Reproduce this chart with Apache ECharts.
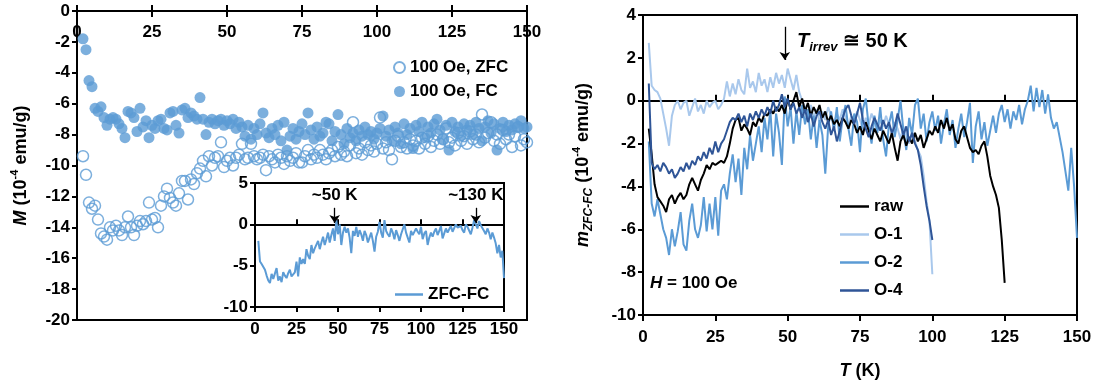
<!DOCTYPE html>
<html><head><meta charset="utf-8">
<script src="https://cdn.jsdelivr.net/npm/echarts@6/dist/echarts.min.js"></script>
<style>html,body{margin:0;padding:0;background:#fff}#c{width:1099px;height:387px}</style>
</head><body><div id="c"></div>
<script>
// temperature grid (K) shared by all series
const temps = [2,3,4,5,6,7,8,9,
10,11,12,13,14,15,16,17,18,19,
20,21,22,23,24,25,26,27,28,29,
30,31,32,33,34,35,36,37,38,39,
40,41,42,43,44,45,46,47,48,49,
50,51,52,53,54,55,56,57,58,59,
60,61,62,63,64,65,66,67,68,69,
70,71,72,73,74,75,76,77,78,79,
80,81,82,83,84,85,86,87,88,89,
90,91,92,93,94,95,96,97,98,99,
100,101,102,103,104,105,106,107,108,109,
110,111,112,113,114,115,116,117,118,119,
120,121,122,123,124,125,126,127,128,129,
130,131,132,133,134,135,136,137,138,139,
140,141,142,143,144,145,146,147,148,149,
150];
const xTicks = [0,25,50,75,100,125,150];

// Left panel: M (1e-4 emu/g)
const zfc = [-9.4,-10.6,-12.4,-12.8,-12.6,-13.5,-14.4,-14.6,
-14.8,-14.0,-14.2,-13.9,-14.2,-14.5,-14.0,-13.3,-14.0,-14.5,
-13.9,-13.6,-13.8,-13.6,-12.4,-13.5,-13.4,-14.0,-12.6,-12.0,
-11.5,-12.1,-12.4,-12.6,-11.8,-11.0,-11.0,-12.2,-10.9,-11.2,
-10.5,-10.2,-9.7,-10.7,-9.4,-10.0,-9.5,-9.4,-8.5,-10.1,
-9.7,-9.5,-10.0,-9.5,-9.3,-8.6,-9.6,-9.5,-8.6,-9.4,
-9.6,-9.5,-9.3,-10.3,-9.4,-9.6,-9.8,-9.3,-9.5,-9.9,
-9.4,-9.7,-9.5,-9.2,-9.8,-9.8,-9.4,-9.0,-9.6,-9.3,
-9.5,-9.0,-9.3,-9.6,-9.2,-9.0,-9.4,-8.8,-9.3,-9.1,
-9.4,-8.7,-7.2,-9.2,-8.9,-9.3,-8.5,-9.0,-8.7,-9.1,
-8.6,-6.9,-8.9,-8.5,-9.0,-9.6,-8.4,-8.1,-8.8,-8.5,
-8.9,-8.3,-8.7,-8.4,-8.9,-8.2,-8.6,-8.1,-8.8,-8.4,
-8.0,-8.6,-8.3,-7.6,-8.5,-8.2,-8.7,-7.9,-8.4,-8.1,
-8.6,-7.8,-8.3,-8.0,-8.5,-6.7,-8.2,-7.9,-7.2,-8.4,
-8.0,-8.6,-7.7,-8.3,-8.0,-8.8,-8.1,-7.5,-8.7,-8.3,
-8.5];
const fc = [-1.8,-2.5,-4.5,-4.9,-6.3,-6.5,-6.2,-6.9,
-7.4,-7.0,-6.9,-7.0,-7.3,-7.6,-8.2,-6.5,-6.6,-6.9,
-7.8,-6.3,-7.5,-7.1,-8.2,-7.4,-7.6,-7.1,-7.0,-7.6,
-7.7,-6.6,-6.5,-7.4,-7.9,-6.4,-6.3,-6.9,-6.6,-6.8,
-7.0,-5.6,-7.0,-8.0,-7.2,-7.0,-7.3,-7.1,-7.0,-7.4,
-7.1,-7.3,-7.0,-7.6,-7.2,-7.5,-8.1,-7.4,-8.3,-7.6,
-8.0,-7.3,-6.6,-7.9,-8.2,-7.6,-8.0,-7.4,-8.4,-7.2,
-9.0,-8.1,-7.6,-8.3,-7.8,-7.3,-8.0,-6.6,-7.7,-8.3,
-7.5,-8.1,-7.9,-7.2,-7.3,-8.4,-7.8,-6.7,-8.0,-8.6,
-7.6,-8.2,-7.9,-8.4,-7.7,-8.1,-7.5,-8.0,-7.8,-8.3,
-7.9,-7.6,-6.8,-8.1,-7.7,-8.4,-7.5,-7.9,-8.6,-7.3,
-8.0,-7.6,-8.9,-7.4,-7.8,-7.2,-8.2,-7.5,-7.9,-7.3,
-7.0,-7.7,-8.3,-7.4,-9.0,-7.2,-7.8,-7.5,-8.1,-7.3,
-7.7,-7.4,-8.0,-7.2,-7.6,-8.4,-7.5,-7.1,-7.9,-7.3,
-9.0,-7.6,-7.2,-7.8,-7.4,-7.7,-7.3,-7.5,-7.1,-7.6,
-7.5];
// inset: ZFC-FC
const zfcMinusFc = [-2.0,-4.5,-4.8,-5.0,-5.5,-6.2,-6.8,-7.1,
-6.0,-6.6,-6.4,-5.3,-6.8,-6.3,-7.0,-5.8,-6.2,-6.5,
-5.9,-5.5,-6.3,-6.2,-5.8,-4.5,-6.3,-4.0,-4.8,-4.2,
-4.8,-3.0,-3.8,-4.2,-2.5,-3.5,-2.9,-2.8,-2.0,-3.0,
-2.2,-1.5,-2.5,-1.8,-1.0,-2.2,-1.3,-0.5,-2.0,0.5,
-1.2,0.0,-2.5,-1.0,-0.3,-1.0,-0.5,-1.6,-3.5,-0.8,
-1.4,-0.3,-1.5,-0.7,-1.2,-2.0,-0.8,-1.3,-2.2,-1.6,
-1.0,-2.0,-3.3,-1.5,-0.9,0.3,-1.0,-1.6,0.5,-0.8,
-1.2,-1.5,-0.5,-1.0,-1.8,-0.7,-1.3,-2.0,-1.2,-0.6,
0.0,-1.0,-1.6,-2.2,-0.8,-1.3,-1.5,-0.5,-0.9,-1.2,
-0.3,-1.8,-1.1,-0.8,-2.5,-1.6,-1.0,-1.5,-0.9,-0.5,
-1.3,-0.8,-0.2,-1.7,-1.1,-0.5,-1.0,-0.6,-0.2,-0.9,
-0.8,0.0,-0.4,-0.6,-0.2,-0.7,-1.0,0.0,-0.3,-0.5,
-1.2,-0.4,0.5,0.3,-0.5,0.4,-0.1,-0.3,-0.8,-1.2,
-0.5,-1.0,-1.8,-1.0,-1.6,-2.3,-3.5,-2.5,-4.0,-3.2,
-6.5];

// Right panel: m_ZFC-FC (1e-4 emu/g)
const raw = [-1.3,-2.5,-3.9,-4.5,-4.7,-4.9,-5.2,-4.6,
-4.4,-4.8,-4.5,-4.3,-4.6,-4.4,-3.9,-3.6,-3.9,-4.2,
-3.7,-3.4,-3.0,-3.2,-2.9,-3.0,-2.9,-2.8,-2.9,-2.6,
-2.0,-1.3,-0.9,-0.8,-1.4,-1.1,-1.3,-1.6,-1.0,-1.2,
-0.8,-1.0,-0.6,-0.7,-0.4,-0.6,-0.3,-0.5,-0.2,-0.6,
0.1,-0.4,0.0,0.4,-0.3,0.1,-0.5,-0.1,-0.7,-0.3,
-0.6,-0.2,-0.8,-0.5,-1.0,-0.7,-1.1,-0.9,-1.2,-0.8,
-1.0,-1.3,-0.9,-1.1,-1.5,-1.2,-1.6,-1.0,-1.4,-1.8,
-1.3,-1.6,-1.9,-1.4,-1.7,-2.0,-1.5,-2.2,-2.8,-1.9,
-1.6,-2.1,-1.7,-2.0,-1.5,-1.9,-1.6,-2.2,-1.8,-1.4,
-1.6,-1.2,-1.5,-0.9,-1.3,-0.8,-1.4,-1.1,-1.8,-2.0,
-1.4,-1.2,-1.7,-2.2,-2.4,-2.3,-2.5,-2.1,-1.9,-2.6,
-3.5,-4.0,-4.4,-5.0,-6.5,-8.5];
const o1 = [2.7,0.7,0.5,0.4,0.1,-0.6,-1.3,-2.1,
-0.7,-0.2,0.0,-0.4,-0.1,0.0,-0.7,-0.3,0.1,-0.5,
-0.2,-0.6,0.0,-0.3,-0.1,0.0,-0.4,-0.2,0.1,0.9,
0.2,0.8,0.3,1.0,0.5,0.3,1.5,0.6,0.9,0.4,
1.3,0.7,1.0,0.4,1.1,0.6,1.3,0.8,1.2,0.6,
1.5,1.0,0.5,1.2,0.4,0.0,-0.3,-0.6,-0.2,-0.8,
-0.4,-1.0,-0.5,-0.9,-0.3,-0.7,-1.1,-0.6,-0.9,-0.4,
-0.8,-1.2,-0.7,-1.0,-0.5,-0.9,-1.3,-0.8,-1.1,-0.6,
-1.0,-1.4,-0.9,-1.2,-0.7,-1.1,-1.5,-1.0,-1.3,-1.8,
-1.2,-1.6,-2.0,-1.5,-1.9,-2.3,-2.6,-3.5,-4.7,-5.6,
-8.1];
const o2 = [-1.9,-4.8,-5.4,-4.6,-5.3,-6.0,-6.4,-7.2,
-6.0,-6.8,-6.1,-5.2,-6.7,-7.0,-5.6,-4.8,-6.0,-6.4,
-5.8,-4.5,-6.1,-4.8,-6.0,-4.5,-6.3,-4.2,-3.9,-4.6,
-3.4,-2.5,-3.8,-2.7,-4.4,-2.2,-3.2,-1.6,-2.8,-2.0,
-1.2,-2.4,-0.8,-1.8,-0.4,-2.6,-0.6,-1.5,-3.0,0.2,
-1.2,-0.3,-2.0,-0.5,-1.6,-0.2,-1.1,-0.4,-1.8,-0.7,
-2.2,-0.9,-1.6,-3.4,-1.2,-0.5,-1.4,-0.3,-1.9,-0.8,
-0.2,-1.3,-2.1,-0.6,-1.0,-2.4,-0.4,0.1,-1.2,-2.0,
-0.7,-1.5,-0.3,-1.8,-2.6,-1.1,-0.5,-1.7,-0.9,0.0,
-1.4,-2.3,-0.8,-1.6,-0.2,0.1,-1.3,-0.6,-1.9,-1.0,
-0.5,-1.4,-0.7,-2.0,-1.1,-0.4,-1.6,-0.9,-2.2,-1.3,
-0.6,-1.7,-1.0,-0.1,-2.9,-1.2,-0.5,-1.8,-1.0,-2.1,
-1.4,-0.7,-1.5,-0.6,-0.2,-1.0,-0.4,-1.3,-0.5,-0.9,
-0.2,-1.1,-0.4,0.0,0.7,-0.5,0.6,-0.3,0.5,-0.6,
0.3,-0.8,-1.3,-1.0,-1.7,-2.4,-3.3,-4.2,-2.2,-4.0,
-6.4];
const o4 = [0.8,-2.9,-3.2,-3.0,-3.3,-2.9,-3.1,-3.4,
-3.2,-3.6,-3.4,-3.1,-3.3,-2.9,-3.2,-2.8,-3.0,-2.6,
-2.8,-2.4,-2.7,-2.2,-2.5,-1.9,-2.4,-2.0,-1.8,-1.4,
-1.0,-0.8,-0.9,-0.6,-1.0,-0.7,-1.2,-0.6,-0.9,-0.5,
-0.8,-0.4,-0.7,-0.3,-0.6,0.0,-0.5,-0.2,0.3,-0.3,
0.1,-0.4,-0.1,-0.6,-0.3,-0.8,-0.4,-1.0,-0.6,-1.2,
-0.7,-0.5,-1.0,-1.3,-0.9,-1.6,-1.2,-1.9,-1.4,-0.8,
-0.4,-0.2,-0.7,-1.1,-0.6,-0.1,-0.9,-1.3,-1.7,-1.2,
-0.8,-1.1,-1.4,-0.9,-1.3,-1.0,-1.5,-1.2,-0.6,-1.1,
-1.6,-1.2,-1.9,-1.5,-2.0,-2.3,-3.0,-4.0,-4.9,-5.6,
-6.5];

const FONT = '"Liberation Sans", Arial, sans-serif';
const BLUE = '#5B9BD5';
const pairs = vals => vals.map((v, i) => [temps[i], v]);
const lab = {fontFamily: FONT, fontSize: 17, fontWeight: 'bold', color: '#000'};
const line2 = {show: true, lineStyle: {color: '#000', width: 2}};
const tick = (inside, len) => ({show: true, inside: inside, length: len, lineStyle: {color: '#000', width: 2}});
const xRange = {type: 'value', min: 0, max: 150, interval: 25, splitLine: {show: false}};
const nameRich = {
  i: {fontFamily: FONT, fontSize: 18, fontWeight: 'bold', fontStyle: 'italic', color: '#000', lineHeight: 24, verticalAlign: 'middle'},
  n: {fontFamily: FONT, fontSize: 18, fontWeight: 'bold', color: '#000', lineHeight: 24, verticalAlign: 'middle'},
  sup: {fontFamily: FONT, fontSize: 11, fontWeight: 'bold', color: '#000', lineHeight: 24, verticalAlign: 'top'},
  sub: {fontFamily: FONT, fontSize: 12, fontWeight: 'bold', fontStyle: 'italic', color: '#000', lineHeight: 24, verticalAlign: 'bottom'}
};

const chart = echarts.init(document.getElementById('c'), null, {renderer: 'canvas'});
chart.setOption({
  animation: false,
  backgroundColor: '#fff',
  textStyle: {fontFamily: FONT},
  grid: [
    {left: 77, top: 11, width: 450, height: 309, show: true, borderColor: '#000', borderWidth: 2, backgroundColor: 'transparent', outerBoundsMode: 'none', containLabel: false},
    {left: 255, top: 183, width: 249, height: 124, show: true, borderColor: '#000', borderWidth: 2, backgroundColor: '#fff', outerBoundsMode: 'none', containLabel: false, z: 3},
    {left: 643, top: 15, width: 434, height: 300, show: true, borderColor: '#000', borderWidth: 2, backgroundColor: 'transparent', outerBoundsMode: 'none', containLabel: false}
  ],
  xAxis: [
    Object.assign({}, xRange, {gridIndex: 0, position: 'top', axisLine: Object.assign({onZero: false}, line2), axisTick: tick(true, 6), axisLabel: Object.assign({inside: true, margin: 13, customValues: xTicks}, lab)}),
    Object.assign({}, xRange, {gridIndex: 0, position: 'top', axisLine: {show: false, onZero: false}, axisTick: tick(false, 6), axisLabel: {show: false}}),
    Object.assign({}, xRange, {gridIndex: 1, position: 'bottom', z: 4, axisLine: Object.assign({onZero: true}, line2), axisTick: tick(true, 5), axisLabel: Object.assign({margin: 14}, lab)}),
    Object.assign({}, xRange, {gridIndex: 1, position: 'bottom', z: 4, axisLine: {show: false, onZero: true}, axisTick: tick(false, 5), axisLabel: {show: false}}),
    Object.assign({}, xRange, {gridIndex: 2, position: 'bottom', axisLine: Object.assign({onZero: false}, line2), axisTick: {show: false}, axisLabel: Object.assign({margin: 14}, lab),
      name: '{i|T}{n| (K)}', nameLocation: 'middle', nameGap: 44, nameTextStyle: {rich: nameRich}}),
    Object.assign({}, xRange, {gridIndex: 2, position: 'bottom', axisLine: Object.assign({onZero: true}, line2), axisTick: tick(true, 6), axisLabel: {show: false}}),
    Object.assign({}, xRange, {gridIndex: 2, position: 'bottom', axisLine: {show: false, onZero: true}, axisTick: tick(false, 6), axisLabel: {show: false}})
  ],
  yAxis: [
    {gridIndex: 0, type: 'value', min: -20, max: 0, interval: 2, splitLine: {show: false},
      axisLine: Object.assign({onZero: false}, line2), axisTick: tick(false, 5), axisLabel: Object.assign({margin: 7}, lab),
      name: '{i|M}{n| (10}{sup|-4}{n| emu/g)}', nameLocation: 'middle', nameGap: 44, nameTextStyle: {rich: nameRich}},
    {gridIndex: 1, type: 'value', min: -10, max: 5, interval: 5, splitLine: {show: false}, z: 4,
      axisLine: Object.assign({onZero: false}, line2), axisTick: tick(false, 5), axisLabel: Object.assign({margin: 7}, lab)},
    {gridIndex: 2, type: 'value', min: -10, max: 4, interval: 2, splitLine: {show: false},
      axisLine: Object.assign({onZero: false}, line2), axisTick: tick(false, 5), axisLabel: Object.assign({margin: 7}, lab),
      name: '{i|m}{sub|ZFC-FC}{n| (10}{sup|-4}{n| emu/g)}', nameLocation: 'middle', nameGap: 48, nameTextStyle: {rich: nameRich}}
  ],
  legend: [
    {data: ['100 Oe, ZFC', '100 Oe, FC'], orient: 'vertical', left: 393, top: 59, padding: 0, itemWidth: 11, itemHeight: 11, itemGap: 7, textStyle: lab},
    {data: ['ZFC-FC'], left: 395, top: 286, padding: 0, icon: 'rect', itemWidth: 28, itemHeight: 2.5, textStyle: lab, z: 5},
    {data: ['raw', 'O-1', 'O-2', 'O-4'], orient: 'vertical', left: 840, top: 198, padding: 0, icon: 'rect', itemWidth: 29, itemHeight: 2.5, itemGap: 11, textStyle: lab}
  ],
  graphic: [
    {type: 'text', left: 650, top: 275, style: {text: '{i|H}{n| = 100 Oe}', rich: {
      i: {fontFamily: FONT, fontSize: 17, fontWeight: 'bold', fontStyle: 'italic', fill: '#000'},
      n: {fontFamily: FONT, fontSize: 17, fontWeight: 'bold', fill: '#000'}}}},
    {type: 'text', left: 797, top: 31, style: {text: '{i|T}{sub|irrev}{n| \u2245 50 K}', rich: {
      i: {fontFamily: FONT, fontSize: 20, fontWeight: 'bold', fontStyle: 'italic', fill: '#000', lineHeight: 26, verticalAlign: 'middle'},
      sub: {fontFamily: FONT, fontSize: 13, fontWeight: 'bold', fontStyle: 'italic', fill: '#000', lineHeight: 26, verticalAlign: 'bottom'},
      n: {fontFamily: FONT, fontSize: 20, fontWeight: 'bold', fill: '#000', lineHeight: 26, verticalAlign: 'middle'}}}}
  ],
  series: [
    {name: '100 Oe, ZFC', type: 'scatter', xAxisIndex: 0, yAxisIndex: 0, data: pairs(zfc), symbol: 'circle', symbolSize: 11,
      itemStyle: {color: 'rgba(255,255,255,0)', borderColor: BLUE, borderWidth: 1.5}},
    {name: '100 Oe, FC', type: 'scatter', xAxisIndex: 0, yAxisIndex: 0, data: pairs(fc), symbol: 'circle', symbolSize: 11,
      itemStyle: {color: BLUE, borderColor: BLUE, borderWidth: 0}},
    {name: 'ZFC-FC', type: 'line', xAxisIndex: 2, yAxisIndex: 1, data: pairs(zfcMinusFc), symbol: 'none', z: 4,
      lineStyle: {color: BLUE, width: 2}, itemStyle: {color: BLUE},
      markLine: {silent: true, symbol: ['none', 'arrow'], symbolSize: 8, precision: 2,
        lineStyle: {color: '#000', width: 1.3, type: 'solid'},
        label: Object.assign({show: true, position: 'start', distance: 4}, lab),
        data: [
          [{coord: [48, 2.0], label: {formatter: '~50 K'}}, {coord: [48, 0.15]}],
          [{coord: [133, 2.0], label: {formatter: '~130 K'}}, {coord: [133, 0.15]}]
        ]}},
    {name: 'O-1', type: 'line', xAxisIndex: 4, yAxisIndex: 2, data: pairs(o1), symbol: 'none', lineStyle: {color: '#A9C8EC', width: 2}, itemStyle: {color: '#A9C8EC'}},
    {name: 'O-2', type: 'line', xAxisIndex: 4, yAxisIndex: 2, data: pairs(o2), symbol: 'none', lineStyle: {color: BLUE, width: 2}, itemStyle: {color: BLUE}},
    {name: 'raw', type: 'line', xAxisIndex: 4, yAxisIndex: 2, data: pairs(raw), symbol: 'none', lineStyle: {color: '#000', width: 2}, itemStyle: {color: '#000'},
      markLine: {silent: true, symbol: ['none', 'arrow'], symbolSize: 8, label: {show: false},
        lineStyle: {color: '#000', width: 1.3, type: 'solid'},
        data: [[{coord: [49, 3.45]}, {coord: [49, 1.9]}]]}},
    {name: 'O-4', type: 'line', xAxisIndex: 4, yAxisIndex: 2, data: pairs(o4), symbol: 'none', lineStyle: {color: '#2F5597', width: 2}, itemStyle: {color: '#2F5597'}}
  ]
});
</script></body></html>
